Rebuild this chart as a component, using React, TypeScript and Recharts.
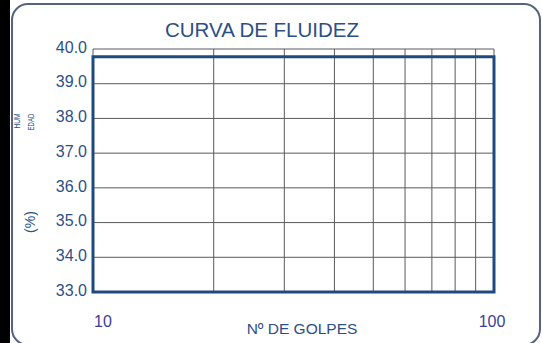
import React from 'react';
import { ComposedChart, XAxis, YAxis, CartesianGrid, ReferenceArea } from 'recharts';

// golpes (escala logarítmica) y humedad
const golpesTicks = [10, 20, 30, 40, 50, 60, 70, 80, 90, 100];
const golpesLabels = [10, 100];
const humedadTicks = [33, 34, 35, 36, 37, 38, 39, 40];
const marcoHumedad = [33, 39.78];

const AZUL = '#2c4f86';
const MARCO = '#1f4a80';

const XTick = (props: any) => {
  const { x, y, payload } = props;
  if (!golpesLabels.includes(payload.value)) return null;
  const dx = payload.value === 10 ? 10 : -2;
  return (
    <text x={x + dx} y={y + 27} textAnchor="middle" fill="#3b3d9c" fontSize={16} fontFamily="Arial, Liberation Sans, sans-serif">
      {payload.value}
    </text>
  );
};

const Textos = () => (
  <g fontFamily="Arial, Liberation Sans, sans-serif">
    <text x={262} y={37} textAnchor="middle" fill={AZUL} fontSize={20.5}>CURVA DE FLUIDEZ</text>
    <text transform="translate(35,222) rotate(-90)" textAnchor="middle" fill={AZUL} fontSize={14}>(%)</text>
    <text transform="translate(20,121) rotate(-90)" textAnchor="middle" fill={AZUL} fontSize={9} textLength={15} lengthAdjust="spacingAndGlyphs">HUM</text>
    <text transform="translate(34,122) rotate(-90)" textAnchor="middle" fill={AZUL} fontSize={9} textLength={17} lengthAdjust="spacingAndGlyphs">EDAD</text>
  </g>
);

const App = () => {
  return (
    <div style={{ position: 'absolute', left: 0, top: 0, width: 542, height: 343, overflow: 'hidden', background: '#fff' }}>
      <div style={{ position: 'absolute', left: 0, top: 0, width: 10, height: 343, background: '#000' }} />
      <div
        style={{
          position: 'absolute', left: 11, top: 3, width: 530, height: 343,
          border: '2px solid #56627e', borderRadius: 17, boxSizing: 'border-box',
        }}
      />
      <div style={{ position: 'absolute', left: 0, top: 0 }}>
        <ComposedChart width={542} height={343} data={[]} margin={{ top: 49, right: 48, bottom: 21, left: 33 }}>
          <CartesianGrid stroke="#5a5a5a" strokeWidth={1} fill="none" />
          <XAxis
            type="number"
            dataKey="golpes"
            scale="log"
            domain={[10, 100]}
            ticks={golpesTicks}
            allowDataOverflow
            axisLine={false}
            tickLine={false}
            height={30}
            tick={<XTick />}
            interval={0}
            label={{
              content: () => (
                <text x={302} y={334} textAnchor="middle" fill={AZUL} fontSize={15.5} fontFamily="Arial, Liberation Sans, sans-serif">
                  Nº DE GOLPES
                </text>
              ),
            }}
          />
          <YAxis
            type="number"
            dataKey="humedad"
            domain={[33, 40]}
            ticks={humedadTicks}
            allowDataOverflow
            axisLine={false}
            tickLine={false}
            width={60}
            tickMargin={0}
            tickSize={6}
            interval={0}
            tickFormatter={(v: number) => v.toFixed(1)}
            tick={{ fill: AZUL, fontSize: 16, fontFamily: 'Arial, Liberation Sans, sans-serif', dy: -2 }}
            label={{ content: () => <Textos /> }}
          />
          <ReferenceArea
            x1={10}
            x2={100}
            y1={marcoHumedad[0]}
            y2={marcoHumedad[1]}
            fill="none"
            stroke={MARCO}
            strokeWidth={3}
            ifOverflow="visible"
          />
        </ComposedChart>
      </div>
    </div>
  );
};

export default App;
